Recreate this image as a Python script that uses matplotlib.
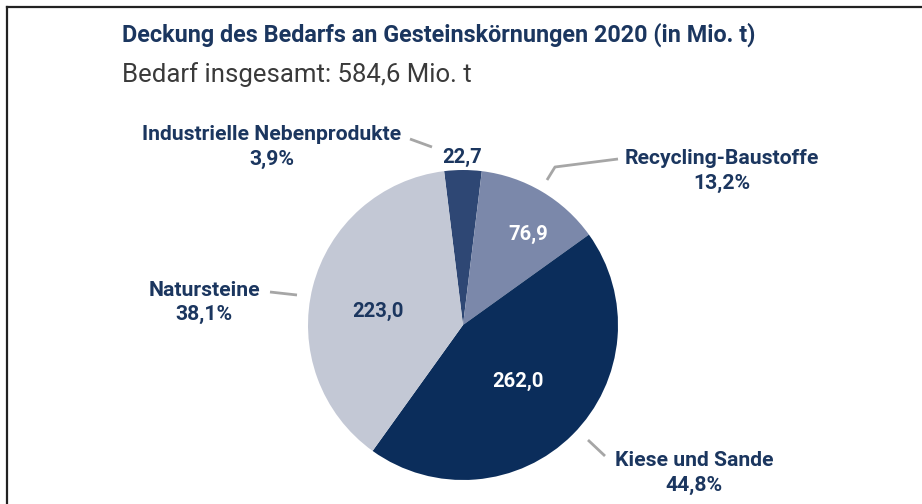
import matplotlib
matplotlib.use("Agg")
import matplotlib.pyplot as plt
from matplotlib.lines import Line2D

plt.rcParams['font.family'] = ['Roboto', 'DejaVu Sans']

# data
categories = ['Industrielle Nebenprodukte', 'Recycling-Baustoffe', 'Kiese und Sande', 'Natursteine']
values = [22.7, 76.9, 262.0, 223.0]
value_labels = ['22,7', '76,9', '262,0', '223,0']
pct_labels = ['3,9%', '13,2%', '44,8%', '38,1%']
colors = ['#2e4774', '#7b88aa', '#0b2d5b', '#c3c8d5']

navy = '#1b365f'
W, H = 922, 504
cx, cy, r = 463, 325, 155

fig = plt.figure(figsize=(W / 100, H / 100), dpi=100)
fig.patch.set_facecolor('white')

# frame lines (top and left only)
fig.add_artist(Line2D([7 / W, 1], [1 - 7 / H, 1 - 7 / H], color='#222222', lw=1.6))
fig.add_artist(Line2D([7 / W, 7 / W], [0, 1 - 7 / H], color='#222222', lw=1.6))

fig.text(122 / W, 1 - 35 / H, 'Deckung des Bedarfs an Gesteinskörnungen 2020 (in Mio. t)',
         fontsize=16.8, fontweight='bold', color=navy, va='center', ha='left')
fig.text(122 / W, 1 - 75 / H, 'Bedarf insgesamt: 584,6 Mio. t',
         fontsize=18.5, color='#3a3a3a', va='center', ha='left')

ax = fig.add_axes([(cx - r) / W, (H - cy - r) / H, 2 * r / W, 2 * r / H])
ax.pie(values, colors=colors, startangle=97, counterclock=False, radius=1,
       wedgeprops=dict(linewidth=0))
ax.set_xlim(-1, 1)
ax.set_ylim(-1, 1)
ax.axis('off')


def P(px, py):
    return (px - cx) / r, (cy - py) / r


# inner / near value labels
val_pos = [(462, 157), (528, 234), (518, 381), (378, 311)]
val_col = [navy, 'white', 'white', navy]
for lab, pos, c in zip(value_labels, val_pos, val_col):
    x, y = P(*pos)
    ax.text(x, y, lab, ha='center', va='center', fontsize=14.6, fontweight='bold', color=c)

# outer category labels (name line, percent line)
cat_pos = [(272, 135, 159), (722, 159, 183), (694, 460, 485), (204, 290, 314)]
for cat, pct, (px, py1, py2) in zip(categories, pct_labels, cat_pos):
    x, y = P(px, py1)
    ax.text(x, y, cat, ha='center', va='center', fontsize=15.2, fontweight='bold', color=navy)
    x, y = P(px, py2)
    ax.text(x, y, pct, ha='center', va='center', fontsize=15.2, fontweight='bold', color=navy)

# leader lines
leaders = [
    [(410, 139), (432, 147)],
    [(547, 180), (555, 167), (618, 159)],
    [(588, 440), (605, 456)],
    [(270, 292), (297, 295)],
]
for pts in leaders:
    xs = [P(*p)[0] for p in pts]
    ys = [P(*p)[1] for p in pts]
    ax.plot(xs, ys, color='#a6a6a6', lw=2, clip_on=False, solid_capstyle='butt')

fig.savefig('out.png', dpi=100, facecolor='white')
